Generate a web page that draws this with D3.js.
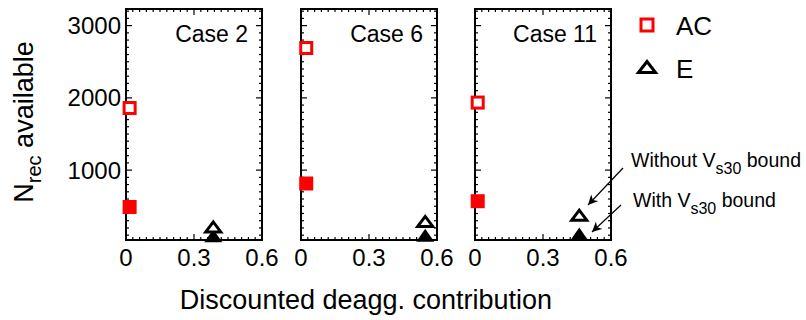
<!DOCTYPE html>
<html>
<head>
<meta charset="utf-8">
<script src="https://cdn.jsdelivr.net/npm/d3@7"></script>
<style>
  body { margin: 0; background: #fff; }
  svg { font-family: 'Liberation Sans', Arial, sans-serif; }
</style>
</head>
<body>
<div id="chart"></div>
<script>
// data
const cases = ['Case 2', 'Case 6', 'Case 11'];
const acAllX = [0.016, 0.023, 0.012];
const acAllY = [1860, 2690, 1935];
const acBoundX = [0.016, 0.023, 0.012];
const acBoundY = [490, 815, 570];
const eAllX = [0.385, 0.548, 0.46];
const eAllY = [214, 290, 376];
const eBoundX = [0.385, 0.548, 0.46];
const eBoundY = [92, 100, 115];
const xTicks = [0, 0.3, 0.6];
const yTicks = [1000, 2000, 3000];
const legendLabels = ['AC', 'E'];

const width = 806, height = 320;
const panelLeft = [126, 301, 475];
const panelW = 136;
const plotTop = 9, plotBottom = 240;
const red = '#ff0000';

const svg = d3.select('#chart').append('svg')
    .attr('width', width)
    .attr('height', height);

const y = d3.scaleLinear()
    .domain([33, 3230])
    .range([plotBottom, plotTop]);

const triPath = function (w, h) {
    return 'M' + (-w / 2) + ',' + (h / 2) + 'L0,' + (-h / 2) + 'L' + (w / 2) + ',' + (h / 2) + 'Z';
};

cases.forEach(function (name, i) {
    const x = d3.scaleLinear()
        .domain([0, 0.6])
        .range([panelLeft[i], panelLeft[i] + panelW]);

    const g = svg.append('g').attr('class', 'panel');

    // minor + major ticks, inward on all four sides
    const xMinor = d3.range(0, 0.6001, 0.03);
    const yMinor = d3.range(100, 3201, 100);
    xMinor.forEach(function (v) {
        const len = xTicks.some(t => Math.abs(t - v) < 1e-6) ? 6 : 3;
        g.append('line').attr('x1', x(v)).attr('x2', x(v))
            .attr('y1', plotBottom).attr('y2', plotBottom - len).attr('stroke', '#000').attr('stroke-width', 1.2);
        g.append('line').attr('x1', x(v)).attr('x2', x(v))
            .attr('y1', plotTop).attr('y2', plotTop + len).attr('stroke', '#000').attr('stroke-width', 1.2);
    });
    yMinor.forEach(function (v) {
        const len = yTicks.indexOf(v) >= 0 ? 6 : 3;
        g.append('line').attr('x1', x.range()[0]).attr('x2', x.range()[0] + len)
            .attr('y1', y(v)).attr('y2', y(v)).attr('stroke', '#000').attr('stroke-width', 1.2);
        g.append('line').attr('x1', x.range()[1]).attr('x2', x.range()[1] - len)
            .attr('y1', y(v)).attr('y2', y(v)).attr('stroke', '#000').attr('stroke-width', 1.2);
    });

    g.append('rect')
        .attr('x', x.range()[0])
        .attr('y', plotTop)
        .attr('width', panelW)
        .attr('height', plotBottom - plotTop)
        .attr('fill', 'none')
        .attr('stroke', '#000')
        .attr('stroke-width', 2);

    // x tick labels
    g.selectAll('.xt').data(xTicks).enter()
        .append('text')
        .attr('x', d => x(d))
        .attr('y', 266)
        .attr('text-anchor', 'middle')
        .attr('font-size', 24)
        .text(d => d === 0 ? '0' : d3.format('.1f')(d));

    if (i === 0) {
        g.selectAll('.yt').data(yTicks).enter()
            .append('text')
            .attr('x', x.range()[0] - 5)
            .attr('y', d => y(d) + 8.5)
            .attr('text-anchor', 'end')
            .attr('font-size', 24)
            .text(d => d);
    }

    g.append('text')
        .attr('x', x.range()[1] - 14)
        .attr('y', 42)
        .attr('text-anchor', 'end')
        .attr('font-size', 23)
        .text(name);

    // AC markers
    g.append('rect')
        .attr('x', x(acBoundX[i]) - 7).attr('y', y(acBoundY[i]) - 7)
        .attr('width', 14).attr('height', 14)
        .attr('fill', red);
    g.append('rect')
        .attr('x', x(acAllX[i]) - 5.5).attr('y', y(acAllY[i]) - 5.5)
        .attr('width', 11).attr('height', 11)
        .attr('fill', '#fff').attr('stroke', red).attr('stroke-width', 3);

    // E markers
    g.append('path')
        .attr('d', triPath(18, 13))
        .attr('transform', 'translate(' + x(eBoundX[i]) + ',' + y(eBoundY[i]) + ')')
        .attr('fill', '#000');
    g.append('path')
        .attr('d', triPath(15, 10))
        .attr('transform', 'translate(' + x(eAllX[i]) + ',' + y(eAllY[i]) + ')')
        .attr('fill', '#fff').attr('stroke', '#000').attr('stroke-width', 3)
        .attr('stroke-linejoin', 'miter');
});

// axis titles
svg.append('text')
    .attr('x', 366)
    .attr('y', 309)
    .attr('text-anchor', 'middle')
    .attr('font-size', 27)
    .text('Discounted deagg. contribution');

const yt = svg.append('text')
    .attr('transform', 'translate(33,122) rotate(-90)')
    .attr('text-anchor', 'middle')
    .attr('font-size', 27);
yt.append('tspan').text('N');
yt.append('tspan').attr('dy', 8).attr('font-size', 20).text('rec');
yt.append('tspan').attr('dy', -8).text(' available');

// legend
const legend = svg.append('g');
legend.append('rect')
    .attr('x', 641).attr('y', 19).attr('width', 12).attr('height', 12)
    .attr('fill', '#fff').attr('stroke', red).attr('stroke-width', 3);
legend.append('path')
    .attr('d', triPath(17, 11))
    .attr('transform', 'translate(647,67)')
    .attr('fill', '#fff').attr('stroke', '#000').attr('stroke-width', 3);
legend.selectAll('.lt').data(legendLabels).enter()
    .append('text')
    .attr('x', 676)
    .attr('y', (d, k) => 35 + k * 43)
    .attr('font-size', 26)
    .text(d => d);

// annotations with arrows
const defs = svg.append('defs');
defs.append('marker')
    .attr('id', 'arrow')
    .attr('viewBox', '0 0 10 10')
    .attr('refX', 10).attr('refY', 5)
    .attr('markerWidth', 10).attr('markerHeight', 10)
    .attr('markerUnits', 'userSpaceOnUse')
    .attr('orient', 'auto')
    .append('path')
    .attr('d', 'M0,0L10,5L0,10L3,5Z')
    .attr('fill', '#000');

const notes = [
    { label: 'Without V', x: 631, y: 167, from: [623, 168], to: [588, 205] },
    { label: 'With V', x: 633, y: 207, from: [621, 205], to: [592, 232] }
];
notes.forEach(function (n) {
    const t = svg.append('text')
        .attr('x', n.x).attr('y', n.y)
        .attr('font-size', 19.5);
    t.append('tspan').text(n.label);
    t.append('tspan').attr('dy', 7).attr('font-size', 16).text('s30');
    t.append('tspan').attr('dy', -7).text(' bound');
    svg.append('line')
        .attr('x1', n.from[0]).attr('y1', n.from[1])
        .attr('x2', n.to[0]).attr('y2', n.to[1])
        .attr('stroke', '#000').attr('stroke-width', 1.2)
        .attr('marker-end', 'url(#arrow)');
});
</script>
</body>
</html>
